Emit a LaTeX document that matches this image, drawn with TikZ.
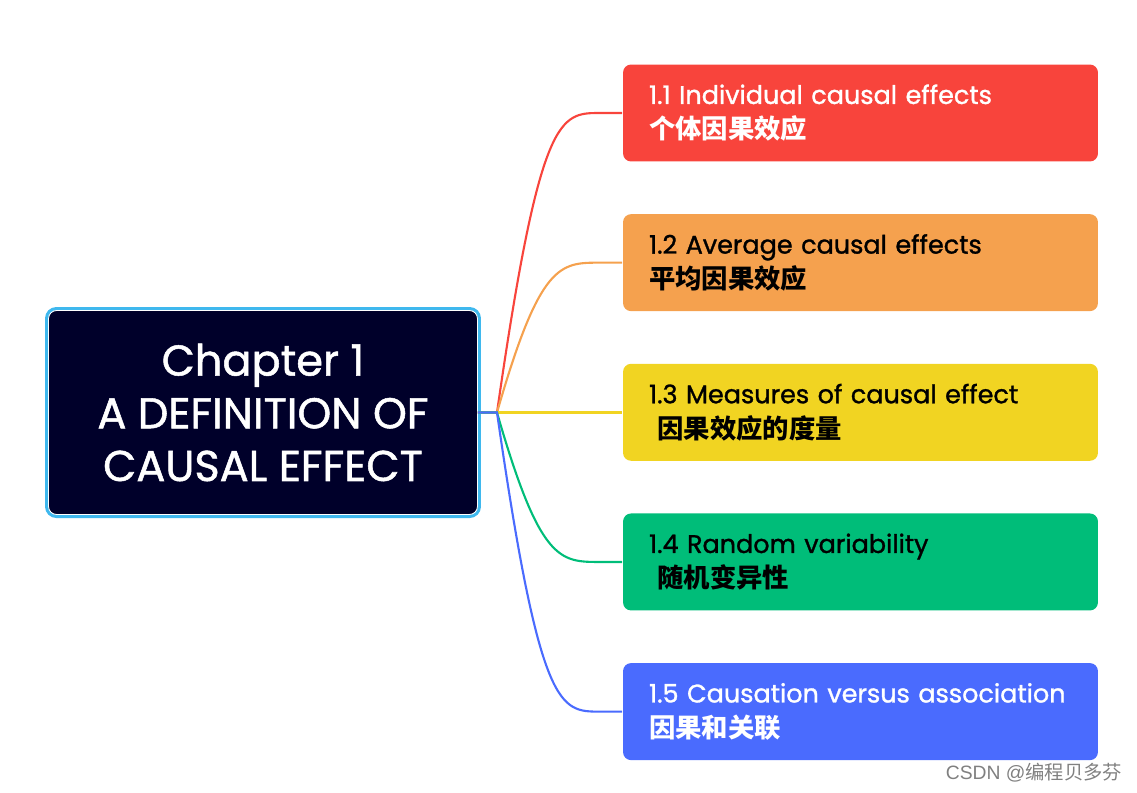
\documentclass[tikz,border=0pt]{standalone}
\usepackage{fontspec}
\setmainfont{Poppins}[FakeBold=1.2]
\newfontfamily\cjk{Noto Sans CJK SC}
\newfontfamily\markfont{Liberation Sans}
\usetikzlibrary{positioning}

\definecolor{rootfill}{HTML}{00002A}
\definecolor{rootedge}{HTML}{3FB8EE}
\definecolor{topicred}{HTML}{F8443C}
\definecolor{topicorange}{HTML}{F5A14E}
\definecolor{topicyellow}{HTML}{F1D422}
\definecolor{topicgreen}{HTML}{00BD79}
\definecolor{topicblue}{HTML}{4A6BFE}

\begin{document}
\begin{tikzpicture}[x=0.02cm,y=-0.02cm,node distance=1.015cm,
                    line width=1.1pt]
  \tikzstyle{root}=[rectangle,rounded corners=0.16cm,fill=rootfill,
                    draw=white,line width=0.5pt,
                    preaction={draw=rootedge,line width=4pt},
                    text=white,align=center,
                    minimum width=8.58cm,minimum height=4.08cm,
                    font=\fontsize{24.5}{30}\selectfont]
  \tikzstyle{topic}=[rectangle,rounded corners=0.16cm,
                    text width=8.46cm,inner xsep=0.52cm,align=left,
                    minimum height=1.94cm,
                    font=\fontsize{14.5}{19.8}\selectfont]
  \tikzstyle{branch}=[line width=1.2pt]

  \useasboundingbox (0,0) rectangle (1137,792);

  \node[root]  (root) at (263,412.5) {Chapter 1\\A DEFINITION OF\\CAUSAL EFFECT};
  \coordinate (hub) at (497,412.5);

  \node[topic,fill=topicred,text=white] (indiv) at (860.5,113)
        {1.1 Individual causal effects\\{\cjk\bfseries\fontsize{15}{19.8}\selectfont 个体因果效应}};
  \node[topic,fill=topicorange,text=black] (avg) [below=of indiv]
        {1.2 Average causal effects\\{\cjk\bfseries\fontsize{15}{19.8}\selectfont 平均因果效应}};
  \node[topic,fill=topicyellow,text=black] (measure) [below=of avg]
        {1.3 Measures of causal effect\\\ {\cjk\bfseries\fontsize{15}{19.8}\selectfont 因果效应的度量}};
  \node[topic,fill=topicgreen,text=black] (random) [below=of measure]
        {1.4 Random variability\\\ {\cjk\bfseries\fontsize{15}{19.8}\selectfont 随机变异性}};
  \node[topic,fill=topicblue,text=white] (assoc) [below=of random]
        {\mbox{1.5 Causation versus association}\\{\cjk\bfseries\fontsize{15}{19.8}\selectfont 因果和关联}};

  % branches from the chapter node
  \draw[branch,topicred] (root.east) -- (hub)
        .. controls ([xshift=0.86cm]hub |- indiv.west) and ([xshift=1.26cm]hub |- indiv.west)
        .. ([xshift=2.06cm]hub |- indiv.west) -- (indiv.west);
  \draw[branch,topicorange] (root.east) -- (hub)
        .. controls ([xshift=0.86cm]hub |- avg.west) and ([xshift=1.26cm]hub |- avg.west)
        .. ([xshift=2.06cm]hub |- avg.west) -- (avg.west);
  \draw[branch,topicyellow] (root.east) -- (hub) -- (hub -| measure.west);
  \draw[branch,topicgreen] (root.east) -- (hub)
        .. controls ([xshift=0.86cm]hub |- random.west) and ([xshift=1.26cm]hub |- random.west)
        .. ([xshift=2.06cm]hub |- random.west) -- (random.west);
  \draw[branch,topicblue] (root.east) -- (hub)
        .. controls ([xshift=0.86cm]hub |- assoc.west) and ([xshift=1.26cm]hub |- assoc.west)
        .. ([xshift=2.06cm]hub |- assoc.west) -- (assoc.west);

  \node[anchor=east,text=gray,font=\markfont\fontsize{11}{13}\selectfont]
        (mark) at (1129,773) {CSDN @{\cjk 编程贝多芬}};
\end{tikzpicture}
\end{document}
